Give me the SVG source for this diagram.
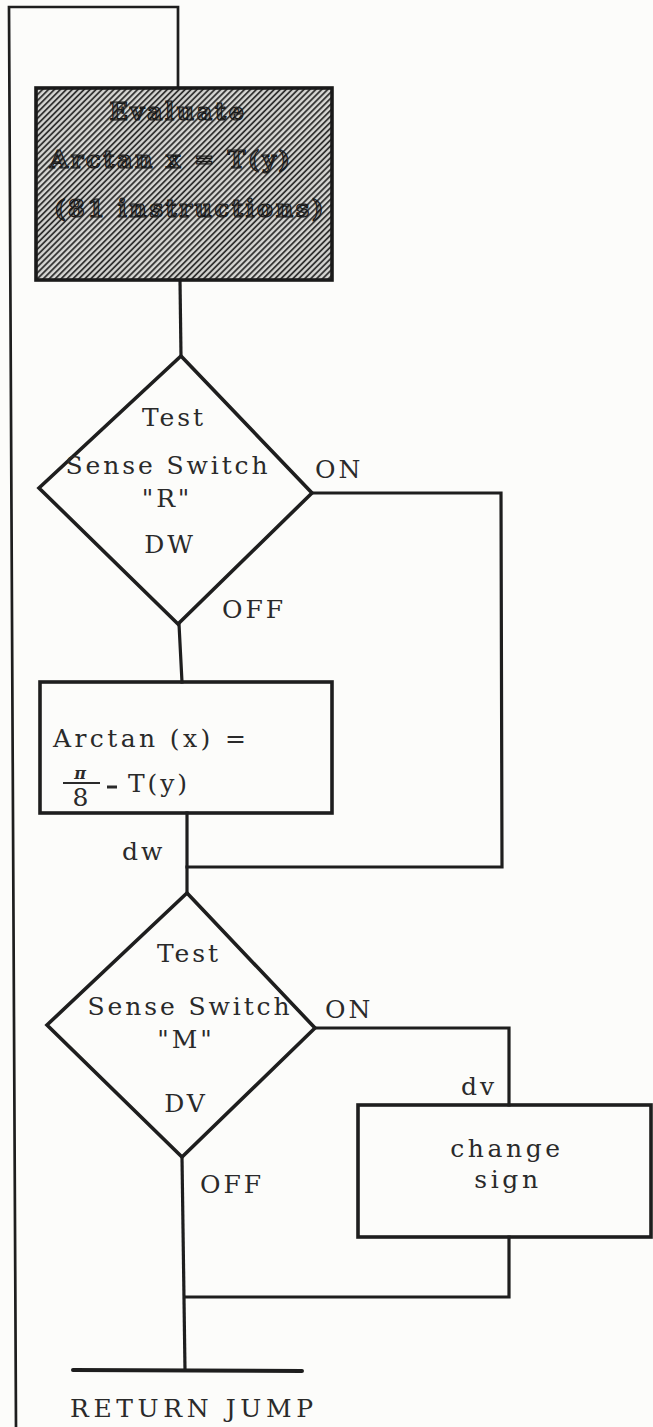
<svg xmlns="http://www.w3.org/2000/svg" width="653" height="1427" viewBox="0 0 653 1427">
<style>
.ln{fill:none;stroke:#1e1e1e;stroke-width:3.2;stroke-linejoin:miter;stroke-linecap:square}
.box{fill:none;stroke:#1e1e1e;stroke-width:3.6}
.t{font-family:"DejaVu Serif","Liberation Serif",serif;font-size:25px;fill:#2a2a2a;letter-spacing:2.9px}
.c{text-anchor:middle}
.h{font-family:"DejaVu Serif","Liberation Serif",serif;font-size:24px;font-weight:bold;fill:url(#hatchd);stroke:#1a1a1a;stroke-width:1.2;letter-spacing:2.6px;text-anchor:middle}
</style>
<defs>
<pattern id="hatch" patternUnits="userSpaceOnUse" width="4.2" height="4.2" patternTransform="rotate(45)">
<rect width="4.2" height="4.2" fill="#d6d6d3"/>
<line x1="1" y1="0" x2="1" y2="4.2" stroke="#262626" stroke-width="1.7"/>
</pattern>
<pattern id="hatchd" patternUnits="userSpaceOnUse" width="4.2" height="4.2" patternTransform="rotate(45)">
<rect width="4.2" height="4.2" fill="#9a9a98"/>
<line x1="1" y1="0" x2="1" y2="4.2" stroke="#1a1a1a" stroke-width="2"/>
</pattern>
</defs>
<rect width="653" height="1427" fill="#fcfcfa"/>
<g id="connectors">
<polyline class="ln" points="16,1427 9,7 178,7 178,88" style="stroke-width:2.7"/>
<line class="ln" x1="180" y1="280" x2="181" y2="356"/>
<polyline class="ln" points="312,493 501,493 502,867 187,867"/>
<line class="ln" x1="179" y1="624" x2="182" y2="682"/>
<line class="ln" x1="187" y1="813" x2="187" y2="893"/>
<polyline class="ln" points="315,1028 509,1028 509,1105"/>
<line class="ln" x1="182" y1="1157" x2="185" y2="1370"/>
<polyline class="ln" points="509,1237 509,1297 185,1297"/>
<text class="t" x="315" y="478">ON</text>
<text class="t" x="222" y="618">OFF</text>
<text class="t" x="122" y="860">dw</text>
<text class="t" x="325" y="1018">ON</text>
<text class="t" x="461" y="1095">dv</text>
<text class="t" x="200" y="1193">OFF</text>
</g>
<g id="evaluate">
<rect x="36" y="88" width="296" height="192" fill="url(#hatch)" stroke="#1a1a1a" stroke-width="3.6"/>
<text class="h" x="178" y="120">Evaluate</text>
<text class="h" x="171" y="168">Arctan x = T(y)</text>
<text class="h" x="190" y="217">(81 instructions)</text>
</g>
<g id="test-r">
<polygon class="box" points="181,356 312,493 178,624 39,488"/>
<text class="t c" x="174" y="426">Test</text>
<text class="t c" x="168" y="474">Sense Switch</text>
<text class="t c" x="167" y="507">"R"</text>
<text class="t c" x="170" y="553">DW</text>
</g>
<g id="arctan-box">
<rect class="box" x="40" y="682" width="292" height="131"/>
<text class="t" x="53" y="747" style="letter-spacing:3.4px">Arctan (x) =</text>
<text x="80" y="779" font-family="DejaVu Serif,serif" font-size="16" font-weight="bold" font-style="italic" fill="#2a2a2a" text-anchor="middle">π</text>
<line x1="63" y1="783" x2="100" y2="783" stroke="#2a2a2a" stroke-width="2"/>
<text class="t c" x="82" y="806">8</text>
<line x1="107" y1="787" x2="117" y2="787" stroke="#2a2a2a" stroke-width="3"/>
<text class="t" x="128" y="792">T(y)</text>
</g>
<g id="test-m">
<polygon class="box" points="187,893 315,1028 182,1157 47,1025"/>
<text class="t c" x="189" y="962">Test</text>
<text class="t c" x="190" y="1015">Sense Switch</text>
<text class="t c" x="186" y="1048">"M"</text>
<text class="t c" x="186" y="1112">DV</text>
</g>
<g id="change-sign">
<rect class="box" x="358" y="1105" width="293" height="132"/>
<text class="t c" x="507" y="1157" style="letter-spacing:3.6px">change</text>
<text class="t c" x="508" y="1188" style="letter-spacing:3.6px">sign</text>
</g>
<g id="return-jump">
<line class="ln" x1="73" y1="1370" x2="302" y2="1371" style="stroke-width:4;stroke-linecap:round"/>
<text class="t" x="70" y="1417" style="letter-spacing:4.6px">RETURN JUMP</text>
</g>
</svg>
